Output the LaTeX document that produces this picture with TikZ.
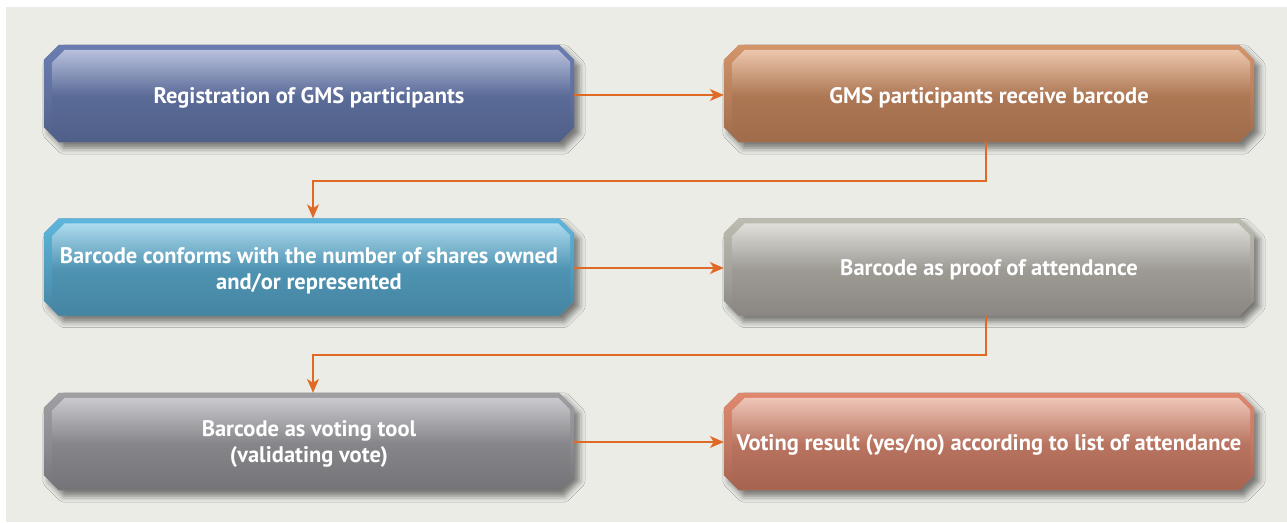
\documentclass[tikz,border=0pt]{standalone}
\usepackage{fontspec}
\setmainfont{PT Sans}
\usetikzlibrary{calc,shadows.blur,arrows.meta}
\definecolor{bg}{HTML}{ECECE7}
\definecolor{arr}{HTML}{E06A25}
% blue
\definecolor{bluB}{HTML}{6B7DB0}\definecolor{bluT}{HTML}{B7C1DD}\definecolor{bluM}{HTML}{5B6B98}\definecolor{bluD}{HTML}{4F5F88}
% brown
\definecolor{broB}{HTML}{D4956A}\definecolor{broT}{HTML}{EDC7AD}\definecolor{broM}{HTML}{AD7754}\definecolor{broD}{HTML}{A06C4B}
% cyan
\definecolor{cyaB}{HTML}{5DB6DD}\definecolor{cyaT}{HTML}{AEDBEE}\definecolor{cyaM}{HTML}{4E93B2}\definecolor{cyaD}{HTML}{4585A2}
% taupe
\definecolor{tauB}{HTML}{BDBCB0}\definecolor{tauT}{HTML}{E0DFDA}\definecolor{tauM}{HTML}{9E9B95}\definecolor{tauD}{HTML}{8A8782}
% grey
\definecolor{greB}{HTML}{A0A0A4}\definecolor{greT}{HTML}{CACACE}\definecolor{greM}{HTML}{86868A}\definecolor{greD}{HTML}{747478}
% salmon
\definecolor{salB}{HTML}{E0886E}\definecolor{salT}{HTML}{EFC6B8}\definecolor{salM}{HTML}{B87460}\definecolor{salD}{HTML}{A6634E}
\tikzset{
  boxnode/.style={minimum width=530pt,minimum height=97pt,inner sep=0pt,
    text=white,font=\fontsize{22.5}{26}\selectfont\bfseries,align=center},
  conn/.style={draw=arr,line width=1.5pt,-{Stealth[length=14pt,width=12pt,inset=4pt]}},
}
\newcommand\octbox[2]{%
  \path[fill=black!35,blur shadow={shadow xshift=5pt,shadow yshift=-6pt,shadow blur radius=6pt,shadow opacity=50}]
    ($(#1.north west)+(15,0)$) -- ($(#1.north east)+(-15,0)$) -- ($(#1.north east)+(0,15)$)
    -- ($(#1.south east)+(0,-15)$) -- ($(#1.south east)+(-15,0)$) -- ($(#1.south west)+(15,0)$)
    -- ($(#1.south west)+(0,-15)$) -- ($(#1.north west)+(0,15)$) -- cycle;
  \path[top color=#2B,bottom color=#2D,middle color=#2M!70!#2B]
    ($(#1.north west)+(15,0)$) -- ($(#1.north east)+(-15,0)$) -- ($(#1.north east)+(0,15)$)
    -- ($(#1.south east)+(0,-15)$) -- ($(#1.south east)+(-15,0)$) -- ($(#1.south west)+(15,0)$)
    -- ($(#1.south west)+(0,-15)$) -- ($(#1.north west)+(0,15)$) -- cycle;
  \path[top color=#2T,bottom color=#2D,middle color=#2M]
    ($(#1.north west)+(21,5)$) -- ($(#1.north east)+(-16,5)$) -- ($(#1.north east)+(-4,17)$)
    -- ($(#1.south east)+(-4,-11)$) -- ($(#1.south east)+(-15,0)$) -- ($(#1.south west)+(15,0)$)
    -- ($(#1.south west)+(8,-7)$) -- ($(#1.north west)+(8,18)$) -- cycle;
}
\begin{document}
\begin{tikzpicture}[x=1pt,y=-1pt]
\useasboundingbox (0,0) rectangle (1287,522);
\fill[bg] (6,7) rectangle (1287,522);
\path
  (309,93.5) node[boxnode] (b1) {\phantom{x}}
  (989,93.5) node[boxnode] (b2) {\phantom{x}}
  (309,267) node[boxnode] (b3) {\phantom{x}}
  (989,267) node[boxnode] (b4) {\phantom{x}}
  (309,441.5) node[boxnode] (b5) {\phantom{x}}
  (989,441.5) node[boxnode] (b6) {\phantom{x}};
\octbox{b1}{blu}
\octbox{b2}{bro}
\octbox{b3}{cya}
\octbox{b4}{tau}
\octbox{b5}{gre}
\octbox{b6}{sal}
\node[boxnode] (t1) at ([yshift=-4pt]b1) {Registration of GMS participants};
\node[boxnode] (t2) at ([yshift=-4pt]b2) {GMS participants receive barcode};
\node[boxnode] (t3) at ([yshift=-4pt]b3) {Barcode conforms with the number of shares owned\\and/or represented};
\node[boxnode] (t4) at ([yshift=-3pt]b4) {Barcode as proof of attendance};
\node[boxnode] (t5) at ([yshift=-2.5pt]b5) {Barcode as voting tool\\(validating vote)};
\node[boxnode] (t6) at ([yshift=-3pt]b6) {Voting result (yes/no) according to list of attendance};
\coordinate (k1) at (986,181);
\coordinate (k2) at (313,181);
\coordinate (k3) at (986,355);
\coordinate (k4) at (313,355);
\draw[conn] ([yshift=-1.5pt]b1.east) -- ([yshift=-1.5pt]b2.west);
\draw[conn] ([yshift=-1pt]b3.east) -- ([yshift=-1pt]b4.west);
\draw[conn] ([yshift=-0.5pt]b5.east) -- ([yshift=-0.5pt]b6.west);
\draw[conn] (b2.south -| k1) -- (k1) -- (k2) -- (b3.north -| k2);
\draw[conn] (b4.south -| k3) -- (k3) -- (k4) -- (b5.north -| k4);
\end{tikzpicture}
\end{document}
